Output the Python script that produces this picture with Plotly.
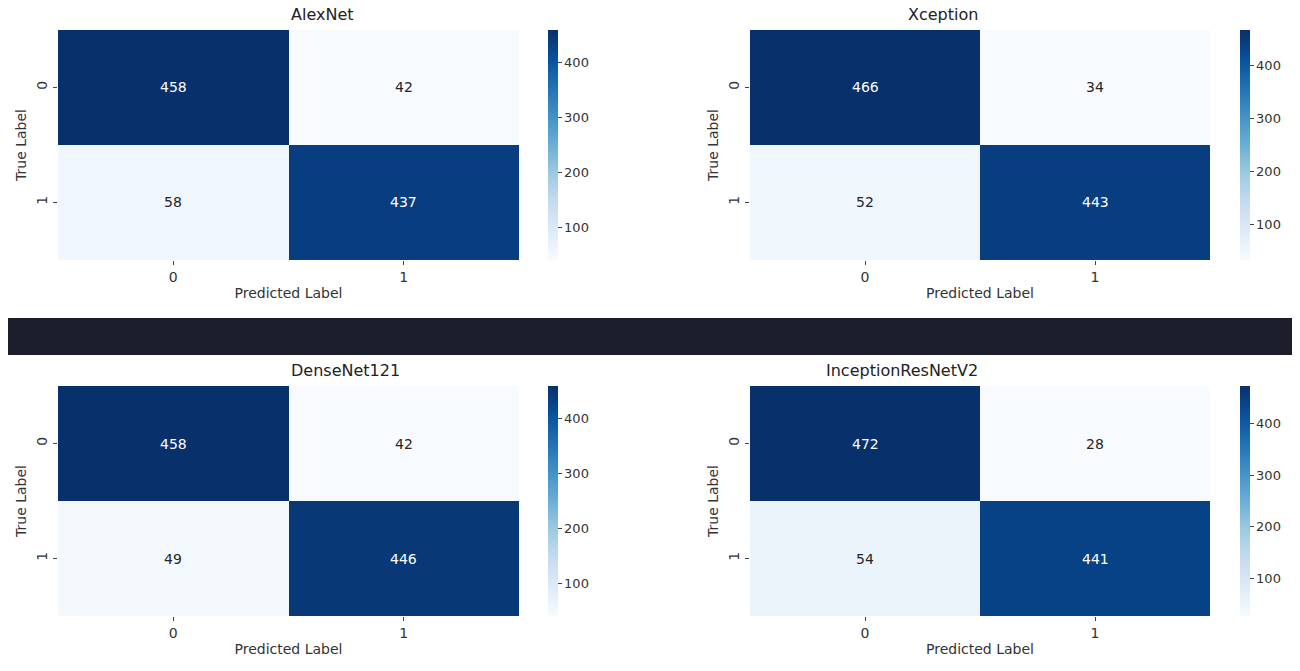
import plotly.graph_objects as go

models = ["AlexNet", "Xception", "DenseNet121", "InceptionResNetV2"]
matrices = [
    [[458, 42], [58, 437]],
    [[466, 34], [52, 443]],
    [[458, 42], [49, 446]],
    [[472, 28], [54, 441]],
]
labels = ["0", "1"]

# page body adds an 8px margin, so the figure is drawn 16px smaller
OFF = 8
W, H = 1300 - 2 * OFF, 671 - 2 * OFF
cols = [(58, 519, 548), (750, 1210, 1240)]
rows = [(30, 260), (386, 616)]

fig = go.Figure()
for i, (name, z) in enumerate(zip(models, matrices)):
    r, c = divmod(i, 2)
    x0, x1, cbx = (v - OFF for v in cols[c])
    y0, y1 = (v - OFF for v in rows[r])
    n = i + 1
    xa, ya = f"x{n}", f"y{n}"
    flat = [v for row in z for v in row]
    zmin, zmax = min(flat), max(flat)
    fig.add_trace(go.Heatmap(
        z=z, x=labels, y=labels, xaxis=xa, yaxis=ya,
        colorscale="Blues", zmin=zmin, zmax=zmax,
        hoverinfo="skip",
        colorbar=dict(x=cbx / W, xanchor="left", xpad=0, ypad=0,
                      y=1 - y1 / H, yanchor="bottom",
                      len=(y1 - y0) / H, thickness=10, outlinewidth=0,
                      dtick=100, tick0=0, ticks="outside", ticklen=4,
                      tickfont=dict(size=13, color="#333")),
    ))
    for ri, row in enumerate(z):
        for ci, v in enumerate(row):
            frac = (v - zmin) / (zmax - zmin)
            fig.add_annotation(x=labels[ci], y=labels[ri], xref=xa, yref=ya,
                               text=str(v), showarrow=False,
                               font=dict(size=14, color="white" if frac > 0.5 else "#262626"))
    key = "" if n == 1 else str(n)
    fig.layout[f"xaxis{key}"] = dict(domain=[x0 / W, x1 / W], anchor=ya,
                                     title=dict(text="Predicted Label", font=dict(size=14), standoff=4),
                                     ticks="outside", ticklen=4, showgrid=False, zeroline=False,
                                     tickfont=dict(size=14))
    fig.layout[f"yaxis{key}"] = dict(domain=[1 - y1 / H, 1 - y0 / H], anchor=xa,
                                     autorange="reversed", tickangle=-90,
                                     title=dict(text="True Label", font=dict(size=14), standoff=4),
                                     ticks="outside", ticklen=4, showgrid=False, zeroline=False,
                                     tickfont=dict(size=14))
    fig.add_annotation(x=(x0 + x1) / 2 / W, y=1 - (y0 - 4) / H, xref="paper", yref="paper",
                       text=name, showarrow=False, yanchor="bottom", font=dict(size=16, color="#222"))

fig.add_shape(type="rect", xref="paper", yref="paper", x0=-0.01, x1=1.01,
              y0=1 - (355 - OFF) / H, y1=1 - (318 - OFF) / H,
              fillcolor="#1c1e2b", line_width=0, layer="below")

fig.update_layout(width=W, height=H, margin=dict(l=0, r=0, t=0, b=0),
                  paper_bgcolor="white", plot_bgcolor="white",
                  font=dict(family="DejaVu Sans", color="#333"))
fig.write_html("out.html")
